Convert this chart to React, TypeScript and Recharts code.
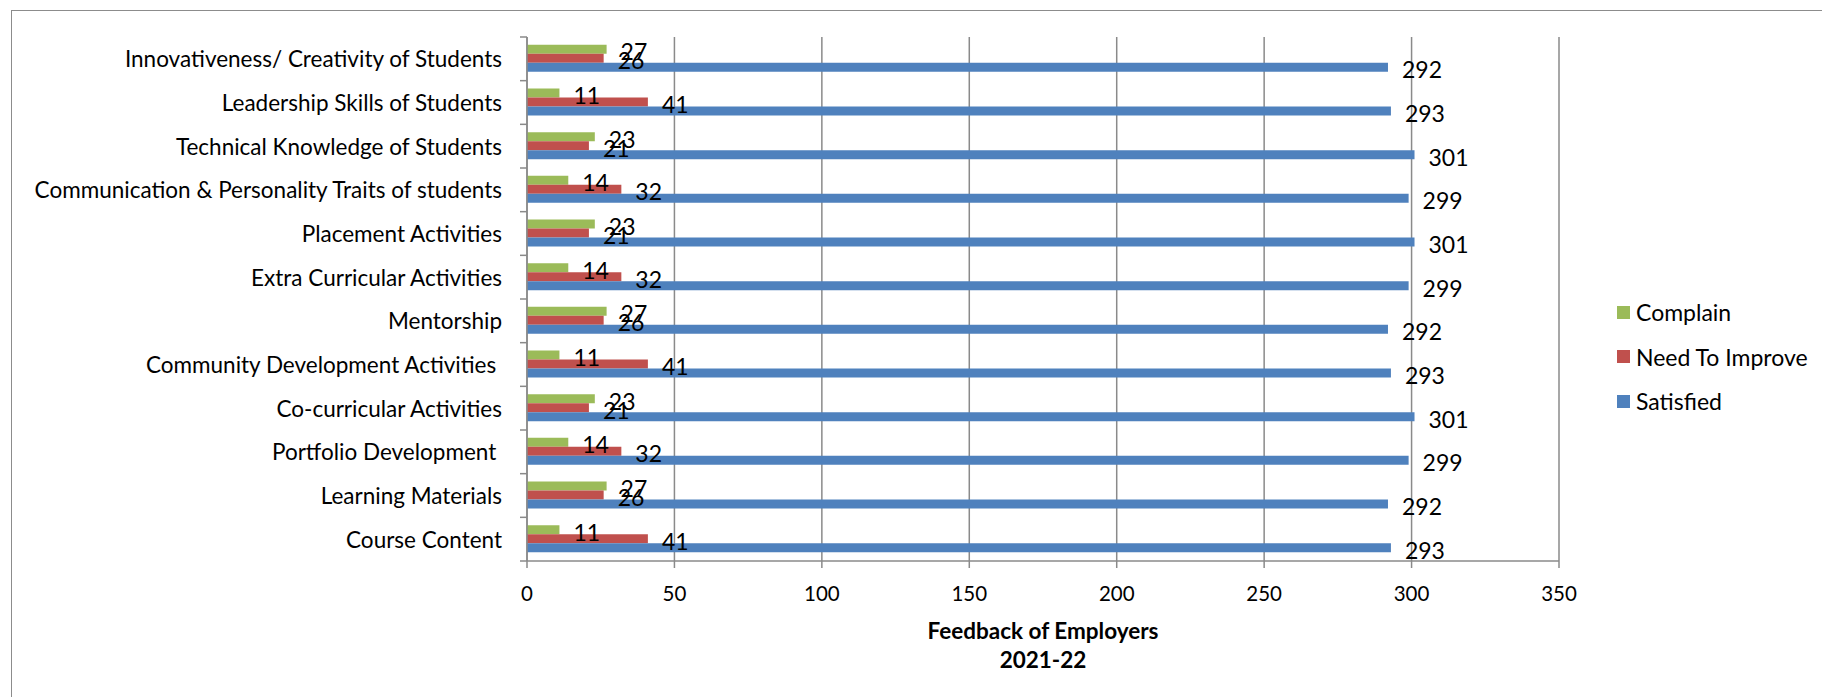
import React from 'react';
import {
  BarChart,
  Bar,
  XAxis,
  YAxis,
  CartesianGrid,
  Legend,
  LabelList,
} from 'recharts';

const categories = [
  'Innovativeness/ Creativity of Students',
  'Leadership Skills of Students',
  'Technical Knowledge of Students',
  'Communication & Personality Traits of students',
  'Placement Activities',
  'Extra Curricular Activities',
  'Mentorship',
  'Community Development Activities ',
  'Co-curricular Activities',
  'Portfolio Development ',
  'Learning Materials',
  'Course Content',
];

const complain = [27, 11, 23, 14, 23, 14, 27, 11, 23, 14, 27, 11];
const needToImprove = [26, 41, 21, 32, 21, 32, 26, 41, 21, 32, 26, 41];
const satisfied = [292, 293, 301, 299, 301, 299, 292, 293, 301, 299, 292, 293];

const xTicks = [0, 50, 100, 150, 200, 250, 300, 350];

const series = [
  { key: 'complain', name: 'Complain', color: '#9BBB59' },
  { key: 'needToImprove', name: 'Need To Improve', color: '#C0504D' },
  { key: 'satisfied', name: 'Satisfied', color: '#4F81BD' },
];

const data = categories.map((name, i) => ({
  name,
  complain: complain[i],
  needToImprove: needToImprove[i],
  satisfied: satisfied[i],
}));

const W = 1822;
const H = 697;
const Y_AXIS_W = 500;
const X_AXIS_H = 60;
const margin = { top: 37, right: 263, bottom: 76, left: 27 };
const plotLeft = margin.left + Y_AXIS_W;
const plotHeight = H - margin.top - margin.bottom - X_AXIS_H;
const band = plotHeight / categories.length;

const FONT = 'Lato, "Open Sans", sans-serif';
const GRID = '#8a8a8a';

const CategoryTick = (props: any) => {
  const { x, y, payload, index } = props;
  return (
    <g>
      <line x1={plotLeft - 7} y1={y - band / 2} x2={plotLeft} y2={y - band / 2} stroke={GRID} strokeWidth={1.5} />
      {index === categories.length - 1 && (
        <line x1={plotLeft - 7} y1={y + band / 2} x2={plotLeft} y2={y + band / 2} stroke={GRID} strokeWidth={1.5} />
      )}
      <text
        x={x}
        y={y}
        textAnchor="end"
        dominantBaseline="central"
        fontSize={22.5}
        fontFamily={FONT}
        fill="#000"
        style={{ whiteSpace: 'pre' }}
      >
        {payload.value}
      </text>
    </g>
  );
};

const ValueLabel = (props: any) => {
  const { x, y, width, height, value } = props;
  return (
    <text
      x={x + width + 14}
      y={y + height / 2 + 2}
      dominantBaseline="central"
      fontSize={23}
      fontFamily={FONT}
      fill="#000"
    >
      {value}
    </text>
  );
};

const AxisTitle = (props: any) => {
  const { viewBox } = props;
  const cx = viewBox.x + viewBox.width / 2;
  return (
    <text textAnchor="middle" fontSize={22.5} fontWeight="bold" fontFamily={FONT} fill="#000">
      <tspan x={cx} y={639}>Feedback of Employers</tspan>
      <tspan x={cx} y={668}>2021-22</tspan>
    </text>
  );
};

const LegendContent = () => (
  <div style={{ fontFamily: FONT, fontSize: 23, color: '#000' }}>
    {series.map((s) => (
      <div key={s.key} style={{ height: 44.5, display: 'flex', alignItems: 'center' }}>
        <span style={{ width: 13, height: 13, background: s.color, marginRight: 6, display: 'inline-block' }} />
        <span>{s.name}</span>
      </div>
    ))}
  </div>
);

export default function App() {
  return (
    <div style={{ position: 'absolute', left: 0, top: 0, width: W, height: H, background: '#fff', overflow: 'hidden' }}>
      <div
        style={{
          position: 'absolute',
          left: 11,
          top: 10,
          width: W,
          height: H,
          borderTop: '1.5px solid #8c8c8c',
          borderLeft: '1.5px solid #8c8c8c',
        }}
      />
      <div style={{ position: 'absolute', left: 0, top: 0 }}>
        <BarChart
          width={W}
          height={H}
          data={data}
          layout="vertical"
          margin={margin}
          barCategoryGap="18%"
          barGap={0}
        >
          <CartesianGrid horizontal={false} stroke={GRID} strokeWidth={1.5} />
          <XAxis
            type="number"
            domain={[0, 350]}
            ticks={xTicks}
            height={X_AXIS_H}
            tickSize={7}
            tickMargin={18}
            axisLine={{ stroke: GRID, strokeWidth: 1.5 }}
            tickLine={{ stroke: GRID, strokeWidth: 1.5 }}
            tick={{ fill: '#000', fontSize: 20.5, fontFamily: FONT }}
            label={<AxisTitle />}
            interval={0}
          />
          <YAxis
            type="category"
            dataKey="name"
            width={Y_AXIS_W}
            tickSize={7}
            tickMargin={18}
            tickLine={false}
            axisLine={{ stroke: GRID, strokeWidth: 1.5 }}
            tick={<CategoryTick />}
            interval={0}
          />
          <Legend
            layout="vertical"
            align="center"
            verticalAlign="middle"
            content={<LegendContent />}
            wrapperStyle={{ left: 1617, top: 290, width: 220 }}
          />
          {series.map((s) => (
            <Bar key={s.key} dataKey={s.key} name={s.name} fill={s.color} isAnimationActive={false}>
              <LabelList dataKey={s.key} content={<ValueLabel />} />
            </Bar>
          ))}
        </BarChart>
      </div>
    </div>
  );
}
